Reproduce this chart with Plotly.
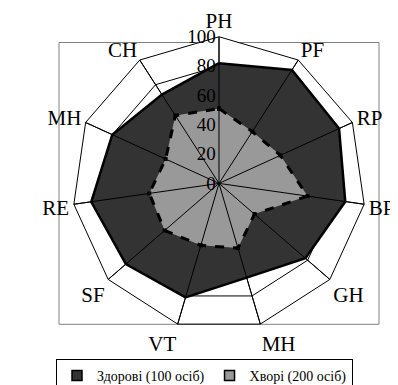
import plotly.graph_objects as go

categories = ["PH", "PF", "RP", "BP", "GH", "MH", "VT", "SF", "RE", "MH", "CH"]
healthy = [82, 92, 90, 87, 78, 67, 81, 84, 88, 80, 72]
sick = [51, 42, 46, 61, 32, 46, 44, 49, 48, 40, 55]
radial_ticks = [0, 20, 40, 60, 80, 100]
series_names = ["Здорові (100 осіб)", "Хворі (200 осіб)"]
series_fills = ["#333333", "#999999"]

keys = [f"c{i}" for i in range(len(categories))]
FONT = "Liberation Serif, Times New Roman, serif"

fig = go.Figure()
fig.add_trace(go.Scatterpolar(
    r=healthy + [healthy[0]], theta=keys + [keys[0]],
    mode="lines", fill="toself", fillcolor=series_fills[0],
    line=dict(color="black", width=2.5), name=series_names[0], showlegend=False))
fig.add_trace(go.Scatterpolar(
    r=sick + [sick[0]], theta=keys + [keys[0]],
    mode="lines+markers", fill="toself", fillcolor=series_fills[1],
    marker=dict(symbol="square", size=4, color="black"),
    line=dict(color="black", width=3, dash="dash"), name=series_names[1], showlegend=False))
# spokes drawn over the filled areas
for k in keys:
    fig.add_trace(go.Scatterpolar(
        r=[0, 100], theta=[k, k], mode="lines",
        line=dict(color="black", width=1), showlegend=False, hoverinfo="skip"))
# legend entries (square swatches)
for name, col in zip(series_names, series_fills):
    fig.add_trace(go.Scatterpolar(
        r=[None], theta=[keys[0]], mode="markers", name=name,
        marker=dict(symbol="square", size=10, color=col, line=dict(color="black", width=1.5))))

R = 153
cx, cy = 211, 202
fig.update_layout(
    width=398, height=385,
    margin=dict(l=0, r=0, t=0, b=0),
    paper_bgcolor="white", plot_bgcolor="white",
    font=dict(family=FONT, color="black"),
    polar=dict(
        domain=dict(x=[(cx - R) / 398, (cx + R) / 398], y=[(cy - R) / 385, (cy + R) / 385]),
        bgcolor="white",
        gridshape="linear",
        radialaxis=dict(range=[0, 100], tickvals=radial_ticks, angle=90, tickangle=90,
                        side="counterclockwise", showline=False, ticks="",
                        gridcolor="black", gridwidth=1,
                        tickfont=dict(size=19, family=FONT, color="black")),
        angularaxis=dict(type="category", categoryarray=keys, tickmode="array",
                         tickvals=keys, ticktext=categories,
                         direction="clockwise", rotation=90,
                         showline=True, linecolor="black", linewidth=1,
                         gridcolor="black", gridwidth=1, ticks="",
                         tickfont=dict(size=21, family=FONT, color="black")),
    ),
    legend=dict(orientation="h", x=48 / 398, xanchor="left", y=1 - 366 / 385, yanchor="top",
                bordercolor="black", borderwidth=1, font=dict(size=14, family=FONT),
                itemwidth=30, tracegroupgap=0),
    showlegend=True,
    shapes=[dict(type="rect", xref="paper", yref="paper",
                 x0=51 / 398, x1=371 / 398, y0=1 - 330 / 385, y1=1 - 36 / 385,
                 line=dict(color="#808080", width=1), layer="below")],
)
fig.write_html("out.html")
